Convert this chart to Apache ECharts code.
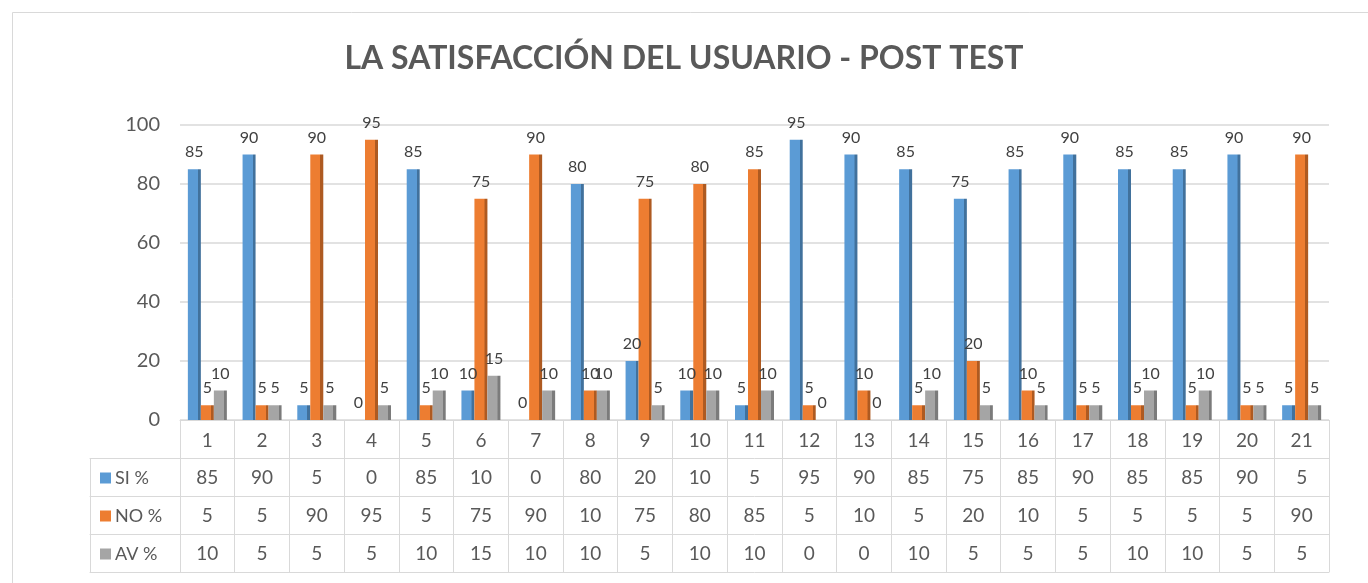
<!DOCTYPE html>
<html>
<head>
<meta charset="utf-8">
<script src="https://cdn.jsdelivr.net/npm/echarts@6/dist/echarts.min.js"></script>
<style>
html,body{margin:0;padding:0;background:#fff;}
#chart{width:1368px;height:583px;}
</style>
</head>
<body>
<div id="chart"></div>
<script>
const titleText = 'LA SATISFACCIÓN DEL USUARIO - POST TEST';
const categories = ['1','2','3','4','5','6','7','8','9','10','11','12','13','14','15','16','17','18','19','20','21'];
const seriesNames = ['SI %','NO %','AV %'];
const siValues = [85,90,5,0,85,10,0,80,20,10,5,95,90,85,75,85,90,85,85,90,5];
const noValues = [5,5,90,95,5,75,90,10,75,80,85,5,10,5,20,10,5,5,5,5,90];
const avValues = [10,5,5,5,10,15,10,10,5,10,10,0,0,10,5,5,5,10,10,5,5];
const yTicks = [0,20,40,60,80,100];

const colors = ['#5B9BD5','#ED7D31','#A5A5A5'];
const darkColors = ['#41719C','#AE5A21','#7B7B7B'];
const allValues = [siValues, noValues, avValues];

const chart = echarts.init(document.getElementById('chart'), null, {renderer:'canvas'});

const lineColor = '#D9D9D9';
const textColor = '#595959';
const rowH = 38;
const FONT = 'Lato, "Open Sans", sans-serif';

function tableAxis(gridIndex, data, offset, showLabel, extra) {
  return Object.assign({
    type: 'category', gridIndex: gridIndex, position: 'bottom', offset: offset,
    data: data, boundaryGap: true,
    axisLine: {show: true, onZero: false, lineStyle: {color: lineColor, width: 1}},
    axisTick: {show: true, length: rowH, interval: 0, lineStyle: {color: lineColor, width: 1}},
    axisLabel: {show: showLabel, interval: 0, fontSize: 19, color: textColor, margin: 10, fontFamily: FONT},
    splitLine: {show: false}
  }, extra || {});
}

function legendName(i) {
  return {
    name: '{sq' + i + '|}{t|' + seriesNames[i] + '}',
    nameLocation: 'start', nameGap: 80,
    nameTextStyle: {
      align: 'left', verticalAlign: 'top', padding: [11, 0, 0, 0],
      rich: {
        ['sq' + i]: {width: 11, height: 11, backgroundColor: colors[i]},
        t: {fontSize: 18, color: textColor, fontFamily: FONT, padding: [0, 0, 0, 4]}
      }
    }
  };
}

const xAxes = [
  tableAxis(0, categories, 0, true),
  tableAxis(0, siValues.map(String), rowH, true, legendName(0)),
  tableAxis(0, noValues.map(String), rowH*2, true, legendName(1)),
  tableAxis(0, avValues.map(String), rowH*3, true, legendName(2)),
  tableAxis(0, categories, rowH*4, false, {axisTick: {show: false}}),
  tableAxis(1, [''], rowH, false),
  tableAxis(1, [''], rowH*2, false),
  tableAxis(1, [''], rowH*3, false),
  tableAxis(1, [''], rowH*4, false, {axisTick: {show: false}})
];
xAxes[0].axisLabel.margin = 11;

const series = seriesNames.map((n, i) => ({
  name: n, type: 'bar', xAxisIndex: 0, yAxisIndex: 0,
  data: allValues[i],
  barWidth: 13, barGap: '0%',
  itemStyle: {
    color: new echarts.graphic.LinearGradient(0, 0, 1, 0, [
      {offset: 0, color: colors[i]}, {offset: 0.77, color: colors[i]},
      {offset: 0.78, color: darkColors[i]}, {offset: 1, color: darkColors[i]}
    ])
  },
  label: {show: true, position: 'top', distance: 9, fontSize: 16, color: '#404040', fontFamily: FONT},
  emphasis: {disabled: true}
}));

chart.setOption({
  backgroundColor: '#fff',
  animation: false,
  title: {
    text: titleText, left: 'center', top: 38,
    textStyle: {fontSize: 32, fontWeight: 'bold', color: textColor, fontFamily: FONT}
  },
  graphic: [{
    type: 'rect', silent: true,
    shape: {x: 12.5, y: 12.5, width: 1370, height: 600},
    style: {fill: 'none', stroke: lineColor, lineWidth: 1}
  }],
  grid: [
    {left: 180, right: 39, top: 125, bottom: 163},
    {left: 90, width: 90, top: 125, bottom: 163}
  ],
  xAxis: xAxes,
  yAxis: [
    {
      type: 'value', gridIndex: 0, min: 0, max: 100, interval: 20,
      axisLine: {show: false}, axisTick: {show: false},
      axisLabel: {fontSize: 20, color: textColor, margin: 20, fontFamily: FONT,
        formatter: v => yTicks.indexOf(v) >= 0 ? String(v) : ''},
      splitLine: {show: true, lineStyle: {color: lineColor, width: 1.5}}
    },
    {type: 'value', gridIndex: 1, show: false, min: 0, max: 100}
  ],
  series: series
});
</script>
</body>
</html>
